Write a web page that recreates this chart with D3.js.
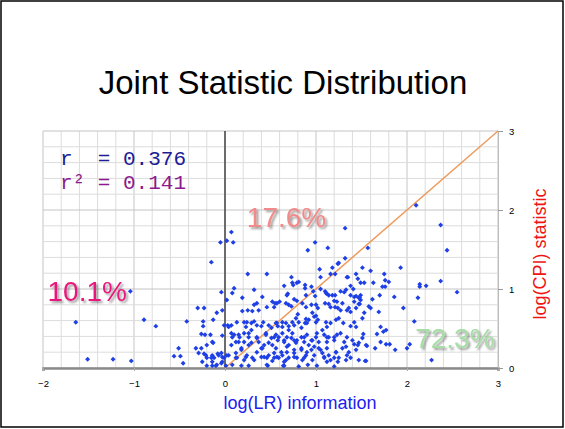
<!DOCTYPE html>
<html>
<head>
<meta charset="utf-8">
<script src="https://cdn.jsdelivr.net/npm/d3@7"></script>
<style>
  body { margin: 0; background: #fff; }
  svg { display: block; font-family: Arial, "Liberation Sans", sans-serif; }
</style>
</head>
<body>
<div id="chart"></div>
<script>
// values (log(LR), log(CPI))
const pointsLeft = [
  [-0.15,1.34],[-1.04,0.97],[-0.04,0.96],[-0.30,0.76],[-0.23,0.76],[-0.09,0.70],[-1.64,0.58],[-0.89,0.61],
  [-0.76,0.53],[-0.42,0.59],[-0.24,0.59],[-0.13,0.61],[-0.24,0.53],[-0.01,0.54],[-0.26,0.43],[-0.22,0.42],
  [-0.16,0.42],[-0.03,0.41],[-0.14,0.33],[-0.20,0.29],[-0.13,0.32],[-0.51,0.25],[-0.32,0.25],[-0.26,0.25],
  [-1.51,0.11],[-1.23,0.11],[-1.03,0.09],[-0.56,0.15],[-0.49,0.15],[-0.46,0.06],[-0.21,0.16],[-0.14,0.16],
  [-0.08,0.18],[-0.20,0.13],[-0.15,0.13],[-0.12,0.13],[-0.03,0.14],[-0.01,0.13],[-0.25,0.08],[-0.14,0.08],
  [-0.20,0.03],[-0.14,0.03],[-0.10,0.03],[-0.04,0.06],[-0.23,0.18],[-0.07,0.16],[-0.09,0.04],[-0.29,0.19],
  [-0.05,1.59],[-0.03,0.73],[-0.04,0.19],[-0.03,0.08]
];
const pointsUpper = [
  [0.07,1.72],[0.02,1.61],[0.09,1.59],[0.25,1.19],[0.46,1.19],[0.10,1.01],[0.32,0.99],[2.10,2.06],
  [2.37,1.81],[2.44,1.49],[1.32,1.77],[1.57,1.52],[0.99,1.59],[0.91,1.49],[1.13,1.52],[1.32,1.39],
  [1.04,1.25],[0.73,1.15],[1.05,1.15],[1.18,1.27],[1.24,1.32],[1.21,1.19],[1.16,1.19],[0.79,1.08],
  [0.88,1.05],[0.65,1.04],[0.75,1.05],[1.35,1.15],[1.38,1.04],[0.97,0.97],[1.05,1.00],[1.10,0.97],
  [1.27,0.97],[1.33,0.99],[0.88,1.01],[0.69,0.94],[1.12,0.94],[1.25,1.33],[1.44,1.19],[1.34,1.15],
  [1.46,1.13],[1.49,1.08],[1.53,1.08],[1.41,1.00],[0.74,1.08],[0.81,1.09],[0.95,1.03],[0.08,0.95],
  [0.02,0.86]
];
const pointsRight = [
  [1.51,1.27],[1.60,1.23],[1.75,1.19],[1.93,1.27],[1.63,1.08],[1.76,1.11],[1.80,1.09],[1.76,1.03],
  [1.73,1.03],[2.14,1.06],[2.14,1.03],[2.21,1.04],[2.37,1.10],[2.55,0.96],[1.49,0.92],[1.48,0.89],
  [1.62,0.87],[1.70,0.92],[1.86,0.90],[2.12,0.89],[1.58,0.78],[1.60,0.76],[1.48,0.81],[1.69,0.71],
  [1.96,0.76],[1.71,0.52],[1.67,0.43],[1.77,0.48],[2.08,0.59],[1.52,0.43],[1.51,0.38],[1.71,0.33],
  [1.56,0.28],[1.65,0.25],[1.77,0.30],[1.81,0.30],[1.87,0.23],[2.00,0.25],[2.03,0.30],[1.54,0.09],
  [2.27,0.10],[1.44,0.91],[1.47,0.89],[1.42,0.84],[1.47,0.81],[1.36,0.76],[1.38,0.71],[1.44,0.52],
  [1.42,0.30],[1.46,0.29],[1.74,0.46]
];
const pointsCore = [
  [0.68,0.92],[0.76,0.87],[0.79,0.85],[0.89,0.92],[0.99,0.91],[1.11,0.95],[1.14,0.92],[1.18,0.92],
  [1.21,0.92],[1.31,0.96],[1.38,0.92],[1.42,0.90],[1.49,0.86],[0.52,0.84],[0.57,0.82],[0.60,0.84],
  [0.67,0.82],[0.70,0.80],[0.46,0.77],[0.54,0.77],[0.85,0.82],[0.89,0.77],[0.95,0.80],[1.00,0.80],
  [1.02,0.76],[1.10,0.82],[1.16,0.77],[1.20,0.85],[1.23,0.84],[1.24,0.76],[1.27,0.73],[1.34,0.73],
  [1.44,0.76],[1.53,0.70],[0.19,0.72],[0.25,0.73],[0.30,0.72],[0.37,0.73],[0.35,0.82],
  [0.07,0.54],[0.04,0.52],[0.21,0.58],[0.24,0.58],[0.29,0.57],[0.32,0.59],[0.35,0.54],[0.40,0.53],
  [0.42,0.58],[0.48,0.54],[0.51,0.51],[0.56,0.57],[0.58,0.53],[0.63,0.58],[0.67,0.57],[0.70,0.53],
  [0.74,0.58],[0.78,0.63],[0.81,0.58],[0.88,0.57],[0.92,0.61],[0.98,0.65],[1.02,0.61],[0.96,0.70],
  [1.00,0.66],[1.11,0.58],[1.12,0.52],[1.16,0.57],[1.22,0.61],[1.25,0.63],[1.30,0.57],[1.42,0.58],
  [1.38,0.53],[1.51,0.63],
  [0.08,0.39],[0.15,0.42],[0.21,0.44],[0.29,0.48],[0.26,0.39],[0.15,0.33],[0.21,0.33],[0.29,0.32],
  [0.35,0.39],[0.37,0.33],[0.45,0.42],[0.43,0.29],[0.51,0.38],[0.52,0.29],[0.56,0.42],[0.58,0.35],
  [0.63,0.44],[0.65,0.33],[0.68,0.39],[0.70,0.29],[0.74,0.44],[0.76,0.35],[0.78,0.32],[0.84,0.39],
  [0.87,0.33],[0.90,0.42],[0.92,0.29],[0.96,0.35],[1.00,0.39],[1.03,0.33],[1.09,0.42],[1.12,0.33],
  [1.14,0.39],[1.20,0.35],[1.23,0.42],[1.31,0.33],[1.34,0.39],[1.40,0.35],[1.47,0.32],[1.55,0.29],
  [0.07,0.44],[0.10,0.42],[0.12,0.33],
  [0.02,0.16],[0.12,0.19],[0.13,0.13],[0.18,0.23],[0.21,0.10],[0.24,0.16],[0.30,0.13],[0.35,0.20],
  [0.40,0.14],[0.41,0.25],[0.46,0.13],[0.48,0.16],[0.52,0.09],[0.54,0.19],[0.59,0.13],[0.63,0.16],
  [0.65,0.08],[0.68,0.20],[0.70,0.13],[0.76,0.19],[0.79,0.13],[0.84,0.23],[0.85,0.10],[0.89,0.16],
  [0.91,0.04],[0.95,0.23],[0.98,0.16],[1.03,0.25],[1.07,0.19],[1.09,0.13],[1.12,0.08],[1.14,0.16],
  [1.20,0.13],[1.22,0.20],[1.24,0.08],[1.33,0.27],[1.34,0.16],[1.38,0.13],[1.44,0.23],[1.47,0.10],
  [1.55,0.09],[0.01,0.03],[0.18,0.03],[0.26,0.03],[0.47,0.03],[0.64,0.03]
];
const pointsDense = [
  [0.55,0.82],[0.73,0.78],[0.80,0.68],[0.89,0.62],[0.90,0.57],[1.00,0.58],[1.14,0.81],[1.21,0.77],
  [1.29,0.82],[1.01,0.44],[1.07,0.48],[1.12,0.39],[1.20,0.39],[1.27,0.44],[0.57,0.57],[0.63,0.52],
  [0.70,0.48],[0.76,0.54],[0.84,0.51],[0.59,0.39],[0.65,0.35],[0.73,0.38],[0.79,0.35],[0.87,0.39],
  [0.95,0.35],[0.56,0.25],[0.62,0.20],[0.68,0.27],[0.76,0.23],[0.84,0.25],[0.90,0.20],[0.98,0.27],
  [1.05,0.23],[1.12,0.25],[1.22,0.20],[1.29,0.25],[1.36,0.20],[0.57,0.14],[0.67,0.10],[0.76,0.14],
  [0.87,0.13],[0.96,0.10],[1.09,0.14],[1.16,0.10],[1.25,0.13],[1.33,0.10],[0.65,0.03],[0.81,0.02],
  [1.01,0.03],[1.20,0.02],[0.19,0.89],[0.32,0.80],[0.41,0.90],[0.03,0.54],[0.13,0.58],[0.23,0.52],
  [0.16,0.39],[0.26,0.44],[0.35,0.38],[0.45,0.44],[0.54,0.39],[0.07,0.29],[0.18,0.25],[0.26,0.29],
  [0.40,0.25],[0.48,0.32],[0.04,0.16],[0.12,0.13],[0.23,0.14],[0.32,0.10],[0.43,0.14],[0.54,0.13],
  [0.08,0.04],[0.46,0.04]
];

const xTicks = [-2, -1, 0, 1, 2, 3];
const yTicks = [0, 1, 2, 3];
const fitLine = [[0, 0], [3, 3]];
const statLines = ["r  = 0.376", "r\u00b2 = 0.141"];
const shares = [
  { text: "10.1%", x: -1.95, y: 0.85, color: "#e8197d" },
  { text: "17.6%", x: 0.24, y: 1.78, color: "#f28a8a" },
  { text: "72.3%", x: 2.09, y: 0.25, color: "#a6dea6" }
];

const W = 565, H = 429;
const margin = { top: 131, right: 67, bottom: 61, left: 43 };

const svg = d3.select("#chart").append("svg")
  .attr("width", W)
  .attr("height", H);

// drop shadow for the share labels
svg.append("defs").append("filter")
  .attr("id", "shadow")
  .attr("x", "-10%").attr("y", "-20%")
  .attr("width", "130%").attr("height", "150%")
  .append("feDropShadow")
  .attr("dx", 2).attr("dy", 2)
  .attr("stdDeviation", 0.8)
  .attr("flood-color", "#555")
  .attr("flood-opacity", 0.6);

svg.append("rect")
  .attr("x", 1).attr("y", 1)
  .attr("width", W - 3).attr("height", H - 3)
  .attr("fill", "#fff")
  .attr("stroke", "#000")
  .attr("stroke-width", 1.5);

svg.append("text")
  .attr("x", 283).attr("y", 94)
  .attr("text-anchor", "middle")
  .attr("font-size", 33)
  .attr("fill", "#000")
  .text("Joint Statistic Distribution");

const x = d3.scaleLinear().domain([-2, 3]).range([margin.left, W - margin.right]);
const y = d3.scaleLinear().domain([0, 3]).range([H - margin.bottom, margin.top]);

// grid every 0.2
const grid = svg.append("g");
const gx = d3.range(0, 26).map(i => -2 + i * 0.2);
const gy = d3.range(0, 16).map(i => i * 0.2);
grid.selectAll(".gx").data(gx).enter().append("line")
  .attr("x1", d => x(d)).attr("x2", d => x(d))
  .attr("y1", y(0)).attr("y2", y(3))
  .attr("stroke", (d, i) => i % 5 === 0 ? "#c4c4c4" : "#dcdcdc")
  .attr("stroke-width", 1);
grid.selectAll(".gy").data(gy).enter().append("line")
  .attr("x1", x(-2)).attr("x2", x(3))
  .attr("y1", d => y(d)).attr("y2", d => y(d))
  .attr("stroke", (d, i) => i % 5 === 0 ? "#c4c4c4" : "#dcdcdc")
  .attr("stroke-width", 1);

// vertical line at x = 0
svg.append("line")
  .attr("x1", x(0)).attr("x2", x(0))
  .attr("y1", y(0)).attr("y2", y(3))
  .attr("stroke", "#444")
  .attr("stroke-width", 1.5);

// axes
const xAxis = svg.append("g")
  .attr("transform", "translate(0," + y(0) + ")")
  .call(d3.axisBottom(x).tickValues(xTicks).tickFormat(d3.format("d")).tickSize(3).tickPadding(9));
xAxis.select(".domain").attr("stroke", "#8a8a8a").attr("stroke-width", 2.5);
xAxis.selectAll(".tick line").attr("stroke", "#aaa");
xAxis.selectAll("text").attr("font-size", 9.5).attr("font-family", "Arial, sans-serif").attr("fill", "#000");

const yAxis = svg.append("g")
  .attr("transform", "translate(" + x(3) + ",0)")
  .call(d3.axisRight(y).tickValues(yTicks).tickFormat(d3.format("d")).tickSize(5).tickPadding(6));
yAxis.select(".domain").attr("stroke", "#bbb");
yAxis.selectAll(".tick line").attr("stroke", "#999");
yAxis.selectAll("text").attr("font-size", 9.5).attr("font-family", "Arial, sans-serif").attr("fill", "#000");

// diagonal y = x
svg.append("line")
  .attr("x1", x(fitLine[0][0])).attr("y1", y(fitLine[0][1]))
  .attr("x2", x(fitLine[1][0])).attr("y2", y(fitLine[1][1]))
  .attr("stroke", "#ee9a5c")
  .attr("stroke-width", 1.5);

// points (small rotated squares)
const allPoints = pointsLeft.concat(pointsUpper, pointsRight, pointsCore, pointsDense);
svg.append("g").selectAll("path")
  .data(allPoints)
  .enter().append("path")
  .attr("transform", d => "translate(" + x(d[0]) + "," + y(d[1]) + ") rotate(45)")
  .attr("d", d3.symbol().type(d3.symbolSquare).size(12))
  .attr("fill", "#1f3fe6");

// r statistics
svg.append("g").selectAll("text")
  .data(statLines)
  .enter().append("text")
  .attr("x", 60)
  .attr("y", (d, i) => 165 + i * 24)
  .attr("font-family", "'Liberation Mono', 'DejaVu Sans Mono', monospace")
  .attr("font-size", 21)
  .style("white-space", "pre")
  .attr("fill", (d, i) => i === 0 ? "#1c1c96" : "#8c1a8c")
  .text(d => d);

// share labels
svg.append("g").selectAll("text")
  .data(shares)
  .enter().append("text")
  .attr("x", d => x(d.x)).attr("y", d => y(d.y))
  .attr("font-size", 28)
  .attr("fill", d => d.color)
  .attr("filter", "url(#shadow)")
  .text(d => d.text);

// axis titles
svg.append("text")
  .attr("x", 300).attr("y", 409)
  .attr("text-anchor", "middle")
  .attr("font-size", 18)
  .attr("fill", "#2020f0")
  .text("log(LR) information");

svg.append("text")
  .attr("transform", "translate(546,254) rotate(-90)")
  .attr("text-anchor", "middle")
  .attr("font-size", 18)
  .attr("fill", "#ee1515")
  .text("log(CPI) statistic");
</script>
</body>
</html>
